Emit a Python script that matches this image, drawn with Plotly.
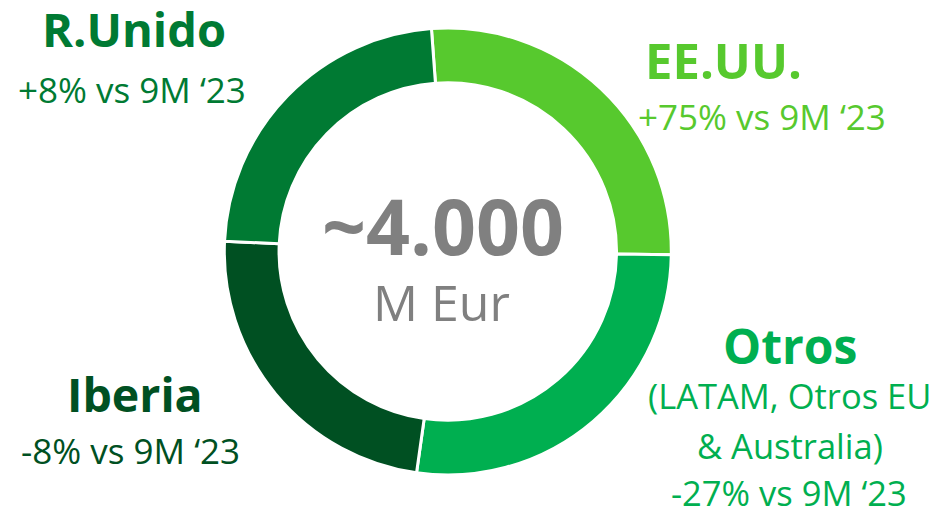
import plotly.graph_objects as go

# Data
regions = ["EE.UU.", "Otros", "Iberia", "R.Unido"]
shares = [26.4, 27.0, 23.5, 23.1]
colors = ["#57C92E", "#00AF50", "#005022", "#007A33"]
growth = ["+75% vs 9M ‘23", "-27% vs 9M ‘23", "-8% vs 9M ‘23", "+8% vs 9M ‘23"]
otros_detail = ["(LATAM, Otros EU", "& Australia)"]
total_label = "~4.000"
unit_label = "M Eur"

W, H = 938, 509
# the page body adds an 8px margin; place marks in screen pixels
OX, OY = 8, 8
FONT = "Open Sans"

cx, cy, r = 447.8, 251.5, 223.5


def px(x):
    return (x - OX) / W


def py(y):
    return 1 - (y - OY) / H


fig = go.Figure(go.Pie(
    labels=regions,
    values=shares,
    hole=0.755,
    sort=False,
    direction="clockwise",
    rotation=-4.2,
    marker=dict(colors=colors, line=dict(color="white", width=3)),
    textinfo="none",
    hoverinfo="label+percent",
    domain=dict(x=[px(cx - r), px(cx + r)],
                y=[py(cy + r), py(cy - r)]),
    showlegend=False,
))

anns = []


def add(text, x, y, size, color, bold=False, xanchor="center"):
    anns.append(dict(
        text=f"<b>{text}</b>" if bold else text,
        x=px(x), y=py(y), xref="paper", yref="paper",
        xanchor=xanchor, yanchor="middle", showarrow=False,
        font=dict(family=FONT, size=size, color=color),
    ))


dy = -1.5
# R.Unido
add(regions[3], 134, 30.5 + dy, 47, colors[3], bold=True)
add(growth[3], 132, 91 + dy, 35, colors[3])
# EE.UU.
add(regions[0], 643, 62 + dy, 49, colors[0], bold=True, xanchor="left")
add(growth[0], 636, 118 + dy, 35, colors[0], xanchor="left")
# Iberia
add(regions[2], 135, 395 + dy, 46.5, colors[2], bold=True)
add(growth[2], 130.5, 451.5 + dy, 35, colors[2])
# Otros
add(regions[1], 790, 346.5 + dy, 48, colors[1], bold=True)
add(otros_detail[0], 789, 397 + dy, 34.5, colors[1])
add(otros_detail[1], 789.5, 447 + dy, 34.5, colors[1])
add(growth[1], 789, 494 + dy, 34.5, colors[1])
# Center
add(total_label, 442.5, 226.7 + dy, 77, "#808080", bold=True)
add(unit_label, 441.5, 303 + dy, 50, "#808080")

fig.update_layout(
    width=W, height=H,
    margin=dict(l=0, r=0, t=0, b=0),
    paper_bgcolor="white",
    plot_bgcolor="white",
    annotations=anns,
)

fig.write_html("out.html")
